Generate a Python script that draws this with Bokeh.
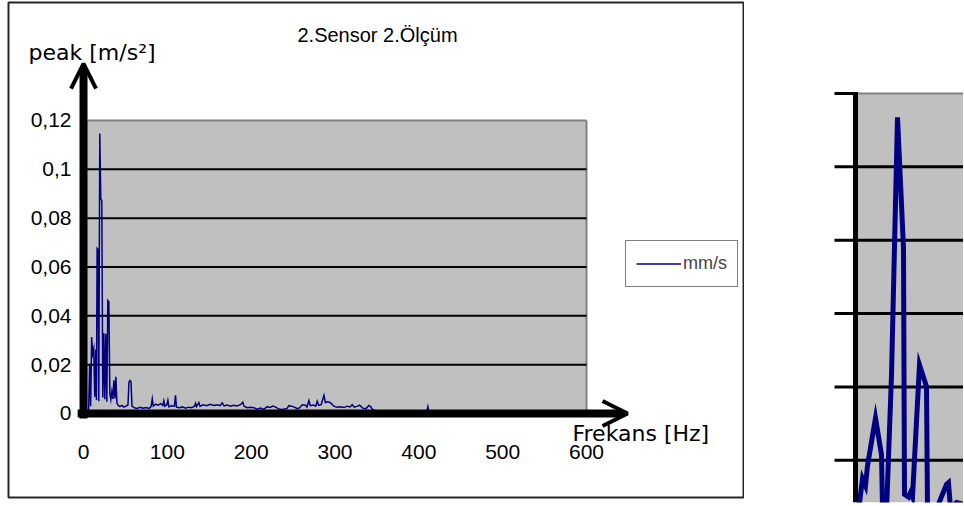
from bokeh.plotting import figure
from bokeh.models import Range1d, Arrow, OpenHead, Label
from bokeh.layouts import row
from bokeh.core.properties import value
from bokeh.embed import file_html
from bokeh.resources import INLINE

# ---------------- data ----------------
freq_hz = [0.0, 1.2, 2.4, 3.7, 4.9, 6.1, 7.3, 8.5, 9.7, 11.0, 12.2, 13.4, 14.6, 15.4, 16.2,
           17.2, 18.2, 19.4, 20.6, 21.8, 23.0, 24.2, 25.4, 26.6, 27.8, 29.0, 30.2, 31.4,
           32.6, 33.8, 35.0, 36.2, 37.4, 38.6, 39.8, 41.0, 43.4, 45.8, 48.2, 50.6, 53.0,
           54.2, 55.4, 56.6, 57.8, 60.2, 63.8, 67.4, 71.0, 74.6, 78.2, 80.6, 82.0, 83.2,
           86.0, 89.0, 92.0, 94.6, 95.8, 97.0, 99.4, 100.6, 101.8, 105.4, 108.5, 109.7,
           110.9, 114.5, 118.1, 121.7, 125.3, 128.9, 132.4, 133.6, 134.8, 137.6, 139.0,
           143.0, 147.0, 151.0, 155.5, 159.5, 163.0, 165.4, 167.8, 171.4, 175.4, 179.0,
           183.0, 187.3, 190.0, 191.5, 195.2, 199.2, 203.2, 207.0, 211.1, 215.0, 219.1,
           222.6, 226.0, 229.1, 233.0, 236.5, 240.0, 243.0, 245.0, 248.0, 251.0, 255.0,
           258.0, 260.9, 264.9, 266.5, 268.9, 270.5, 274.0, 277.0, 278.8, 280.5, 283.5,
           286.8, 288.5, 291.0, 293.5, 296.0, 298.5, 302.7, 306.5, 310.6, 314.5, 318.0,
           320.5, 323.0, 327.0, 329.3, 333.0, 337.0, 340.4, 342.5, 344.4, 350.0, 360.0,
           372.0, 385.0, 398.0, 406.0, 409.5, 410.8, 412.0, 425.0, 445.0, 470.0, 500.0,
           530.0, 560.0, 590.0]
peak_ms2 = [0.0010, 0.0012, 0.0008, 0.0011, 0.0009, 0.0015, 0.0199, 0.0030, 0.0313, 0.0245,
            0.0265, 0.0068, 0.0262, 0.0055, 0.0676, 0.0672, 0.0050, 0.1147, 0.0877, 0.0872,
            0.0065, 0.0330, 0.0058, 0.0326, 0.0048, 0.0463, 0.0458, 0.0082, 0.0057, 0.0090,
            0.0060, 0.0136, 0.0062, 0.0150, 0.0045, 0.0035, 0.0028, 0.0033, 0.0026, 0.0030,
            0.0035, 0.0128, 0.0135, 0.0131, 0.0030, 0.0024, 0.0021, 0.0025, 0.0022, 0.0024,
            0.0021, 0.0028, 0.0060, 0.0030, 0.0038, 0.0034, 0.0040, 0.0033, 0.0052, 0.0030,
            0.0036, 0.0054, 0.0028, 0.0032, 0.0030, 0.0074, 0.0026, 0.0024, 0.0027, 0.0022,
            0.0026, 0.0024, 0.0030, 0.0042, 0.0028, 0.0045, 0.0030, 0.0036, 0.0032, 0.0038,
            0.0033, 0.0036, 0.0032, 0.0044, 0.0031, 0.0035, 0.0030, 0.0034, 0.0031, 0.0036,
            0.0046, 0.0030, 0.0024, 0.0026, 0.0024, 0.0018, 0.0022, 0.0017, 0.0028, 0.0025,
            0.0030, 0.0026, 0.0018, 0.0016, 0.0018, 0.0022, 0.0032, 0.0030, 0.0027, 0.0020,
            0.0024, 0.0036, 0.0034, 0.0026, 0.0053, 0.0032, 0.0035, 0.0030, 0.0050, 0.0033,
            0.0036, 0.0074, 0.0045, 0.0048, 0.0046, 0.0040, 0.0030, 0.0026, 0.0028, 0.0025,
            0.0030, 0.0027, 0.0036, 0.0026, 0.0030, 0.0034, 0.0022, 0.0020, 0.0033, 0.0028,
            0.0018, 0.0008, 0.0006, 0.0009, 0.0005, 0.0007, 0.0006, 0.0008, 0.0028, 0.0007,
            0.0006, 0.0004, 0.0005, 0.0003, 0.0004, 0.0003, 0.0003]

x_ticks = [0, 100, 200, 300, 400, 500, 600]
x_tick_labels = ["0", "100", "200", "300", "400", "500", "600"]
y_ticks = [0, 0.02, 0.04, 0.06, 0.08, 0.1, 0.12]
y_tick_labels = ["0", "0,02", "0,04", "0,06", "0,08", "0,1", "0,12"]
grid_values = [0.02, 0.04, 0.06, 0.08, 0.1]

series_name = "mm/s"
title_text = "2.Sensor 2.Ölçüm"
y_title = "peak [m/s²]"
x_title = "Frekans [Hz]"

# cropped neighbouring chart on the right (only partly visible)
panel_x = [0.4, 1.4, 2.0, 2.4, 4.0, 5.2, 5.4, 6.2, 7.2, 8.4, 9.6, 9.8, 10.6, 11.0, 11.4,
           12.8, 14.2, 14.4, 16.2, 18.2, 18.6, 19.0, 20.2, 21.6]
panel_val = [0.0040, 0.0150, 0.0131, 0.0185, 0.0315, 0.0215, 0.0072, 0.0060, 0.0431, 0.1135,
             0.0779, 0.0107, 0.0100, 0.0112, 0.0100, 0.0460, 0.0401, 0.0072, 0.0067, 0.0134,
             0.0139, 0.0070, 0.0085, 0.0080]
panel_ticks = [0.02, 0.04, 0.06, 0.08, 0.1, 0.12]
panel_grid = [0.02, 0.04, 0.06, 0.08, 0.1]

FONT = "Liberation Sans"
NAVY = "#000080"
GRAY = "#c0c0c0"

# ---------------- main chart (frame = the bordered box) ----------------
# frame spans the whole chart box; the plotting area (0..600 Hz, 0..0.12) sits inside it
p = figure(width=744, height=500,
           x_range=Range1d(-89.5, 787.3), y_range=Range1d(-0.0344, 0.1683),
           output_backend="svg", toolbar_location=None,
           x_axis_location=None, y_axis_location=None,
           min_border_left=8, min_border_right=1, min_border_top=2, min_border_bottom=3,
           background_fill_color="white", border_fill_color="white",
           outline_line_color="#262626", outline_line_width=2)
p.grid.visible = False

x0, x1 = x_ticks[0], x_ticks[-1]
y0, y1 = y_ticks[0], y_ticks[-1]

# grey plot area, its grey top/right border and black grid lines
p.quad(left=[x0], right=[x1], bottom=[y0], top=[y1], fill_color=GRAY, line_color=None)
p.segment(x0=[x0, x1], y0=[y1, y0], x1=[x1, x1], y1=[y1, y1],
          line_color="#808080", line_width=2)
p.segment(x0=[x0] * len(grid_values), y0=grid_values,
          x1=[x1] * len(grid_values), y1=grid_values,
          line_color="#000000", line_width=2)

p.line(freq_hz, peak_ms2, line_color=NAVY, line_width=1.5, line_join="miter",
       legend_label=series_name)

# arrow-style axes
p.add_layout(Arrow(end=OpenHead(size=25, line_width=4, line_color="black"),
                   x_start=x0, y_start=-0.002, x_end=x0, y_end=0.1433,
                   line_width=8, line_color="black"))
p.add_layout(Arrow(end=OpenHead(size=25, line_width=4, line_color="black"),
                   x_start=-7, y_start=y0, x_end=649, y_end=y0,
                   line_width=8, line_color="black"))

# tick labels
p.text(x=[x0] * len(y_ticks), y=y_ticks, text=y_tick_labels, x_offset=-12,
       text_align="right", text_baseline="middle", text_font=value(FONT),
       text_font_size=value("21px"), text_color="black")
p.text(x=x_ticks, y=[y0] * len(x_ticks), text=x_tick_labels, y_offset=39,
       text_align="center", text_baseline="middle", text_font=value(FONT),
       text_font_size=value("21px"), text_color="black")

p.add_layout(Label(x=350.7, y=0.1548, text=title_text, text_align="center",
                   text_baseline="middle", text_font=FONT, text_font_size="20px",
                   text_color="black"))
p.add_layout(Label(x=-65.6, y=0.1478, text=y_title, text_align="left",
                   text_baseline="middle", text_font="DejaVu Sans", text_font_size="22px",
                   text_color="black"))
p.add_layout(Label(x=583.3, y=-0.008, text=x_title, text_align="left",
                   text_baseline="middle", text_font="DejaVu Sans", text_font_size="22px",
                   text_color="black"))

leg = p.legend[0]
leg.location = (617, 210)
leg.border_line_color = "black"
leg.border_line_width = 1.5
leg.background_fill_color = "white"
leg.background_fill_alpha = 1
leg.padding = 10
leg.margin = 0
leg.spacing = 0
leg.glyph_width = 45
leg.glyph_height = 25
leg.label_standoff = 2
leg.label_text_font = FONT
leg.label_text_font_size = "18px"

# ---------------- cropped right panel ----------------
q = figure(width=219, height=505,
           x_range=Range1d(-22.2, 21.6), y_range=Range1d(0.0085, 0.1448),
           output_backend="svg", toolbar_location=None,
           x_axis_location=None, y_axis_location=None,
           min_border_left=0, min_border_right=0, min_border_top=0, min_border_bottom=0,
           background_fill_color="white", border_fill_color="white",
           outline_line_color=None)
q.grid.visible = False
qx_end = q.x_range.end
qy_start = q.y_range.start
q.quad(left=[0], right=[qx_end], bottom=[qy_start], top=[panel_ticks[-1]],
       fill_color=GRAY, line_color=None)
q.segment(x0=[0] * len(panel_grid), y0=panel_grid, x1=[qx_end] * len(panel_grid),
          y1=panel_grid, line_color="#000000", line_width=3)
q.segment(x0=[0], y0=[panel_ticks[-1]], x1=[qx_end], y1=[panel_ticks[-1]],
          line_color="#808080", line_width=2)
q.line(panel_x, panel_val, line_color=NAVY, line_width=5, line_join="miter")
# axis line and outward tick marks
q.segment(x0=[0], y0=[qy_start], x1=[0], y1=[panel_ticks[-1] + 0.0004],
          line_color="black", line_width=5)
q.segment(x0=[-4.2] * len(panel_ticks), y0=panel_ticks, x1=[0] * len(panel_ticks),
          y1=panel_ticks, line_color="black", line_width=3)

layout = row(p, q)
open("out.html", "w").write(file_html(layout, INLINE))
